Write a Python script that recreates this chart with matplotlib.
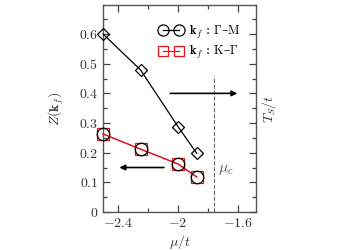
import matplotlib
matplotlib.use('Agg')
import matplotlib.pyplot as plt
from matplotlib.ticker import MultipleLocator, FuncFormatter

plt.rcParams['mathtext.fontset'] = 'cm'
plt.rcParams['font.family'] = ['cmr10', 'DejaVu Serif']
plt.rcParams['axes.unicode_minus'] = False
plt.rcParams['font.size'] = 10

# DATA
mu_gm = [-2.5, -2.25, -2.0, -1.875]
z_gm = [0.600, 0.479, 0.288, 0.198]
mu_kg = [-2.5, -2.25, -2.0, -1.875]
z_kg = [0.263, 0.212, 0.162, 0.118]
mu_c = -1.76
labels = [r'$\mathbf{k}_f$ : $\Gamma$–$\mathrm{M}$', r'$\mathbf{k}_f$ : $\mathrm{K}$–$\Gamma$']

fig = plt.figure(figsize=(3.38, 2.5), dpi=100)
ax = fig.add_axes([0.305, 0.152, 0.452, 0.828])

# upper series (black diamonds)
ax.plot(mu_gm, z_gm, '-', color='black', lw=0.9, marker='D', ms=6.5,
        mfc='none', mec='black', mew=0.9, clip_on=False, zorder=4)
# lower series (red squares + black circles)
ax.plot(mu_kg, z_kg, '-', color='#d8141c', lw=1.1, marker='s', ms=8,
        mfc='none', mec='#e8141c', mew=0.9, clip_on=False, zorder=4)
ax.plot(mu_kg, z_kg, 'none', marker='o', ms=9, mfc='none', mec='black',
        mew=0.9, clip_on=False, zorder=5)

# legend handles
h1, = ax.plot([], [], '-', color='black', lw=0.9, marker='o', ms=8,
              mfc='none', mec='black', mew=0.9)
h2, = ax.plot([], [], '-', color='#e8141c', lw=0.9, marker='s', ms=7,
              mfc='none', mec='#e8141c', mew=0.9)
ax.legend([h1, h2], labels, loc='upper right', bbox_to_anchor=(0.97, 0.965),
          frameon=False, numpoints=2, handlelength=1.9, handletextpad=0.45,
          labelspacing=0.3, prop={'family': 'DejaVu Serif', 'size': 9})

# critical mu
ax.plot([mu_c, mu_c], [0, 0.46], '--', color='#666666', lw=0.8)
ax.text(mu_c + 0.03, 0.135, r'$\mu_c$', color='#555555', fontsize=11)

# arrows
ax.annotate('', xy=(-1.585, 0.4), xytext=(-2.07, 0.4),
            arrowprops=dict(arrowstyle='-|>', color='black', lw=1.2, mutation_scale=8))
ax.annotate('', xy=(-2.41, 0.15), xytext=(-2.075, 0.15),
            arrowprops=dict(arrowstyle='-|>', color='black', lw=1.2, mutation_scale=8))

ax.set_xlim(-2.5, -1.48)
ax.set_ylim(0, 0.698)
ax.xaxis.set_major_locator(MultipleLocator(0.4))
ax.xaxis.set_minor_locator(MultipleLocator(0.2))
ax.yaxis.set_major_locator(MultipleLocator(0.1))
ax.yaxis.set_minor_locator(MultipleLocator(0.05))
ax.xaxis.set_major_formatter(FuncFormatter(lambda v, p: r'$%g$' % round(v, 2)))
ax.yaxis.set_major_formatter(FuncFormatter(lambda v, p: r'$%g$' % round(v, 2)))
ax.tick_params(which='both', direction='in', top=True, right=False, colors='#444444',
               labelcolor='#333333', width=0.9)
ax.tick_params(which='major', length=5)
ax.tick_params(which='minor', length=3)
for s in ax.spines.values():
    s.set_color('#555555')
    s.set_linewidth(1.0)

ax.set_xlabel(r'$\mu/t$', color='#333333', labelpad=2)
ax.set_ylabel(r'$Z(\mathbf{k}_f)$', color='#333333', labelpad=9)

ax2 = ax.twinx()
ax2.set_ylim(0, 0.698)
ax2.yaxis.set_major_locator(MultipleLocator(0.1))
ax2.yaxis.set_minor_locator(MultipleLocator(0.05))
ax2.tick_params(which='both', direction='in', labelright=False, colors='#444444', width=0.9)
ax2.tick_params(which='major', length=5)
ax2.tick_params(which='minor', length=3)
ax2.set_ylabel(r'$T_S/t$', color='#333333', labelpad=3)
for s in ax2.spines.values():
    s.set_visible(False)

fig.savefig('out.png', dpi=100)
